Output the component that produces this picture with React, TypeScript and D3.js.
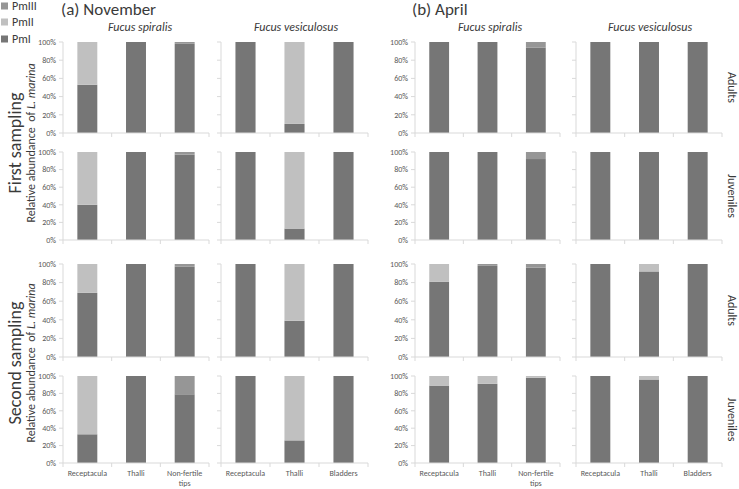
import React from "react";
import * as d3 from "d3";

// categories and labels
const months = ["(a) November", "(b) April"];
const species = ["Fucus spiralis", "Fucus vesiculosus"];
const spiralisParts = ["Receptacula", "Thalli", "Non-fertile tips"];
const vesiculosusParts = ["Receptacula", "Thalli", "Bladders"];
const samplings = ["First sampling", "Second sampling"];
const stages = ["Adults", "Juveniles", "Adults", "Juveniles"];
const series = ["PmI", "PmII", "PmIII"];
const yTicks = [0, 20, 40, 60, 80, 100];

// % values, one row per panel row (first adults, first juveniles, second adults, second juveniles)
const novSpiralisPmI = [[53, 100, 98], [40, 100, 97], [69, 100, 97], [33, 100, 79]];
const novSpiralisPmII = [[47, 0, 0], [60, 0, 0], [31, 0, 0], [67, 0, 0]];
const novSpiralisPmIII = [[0, 0, 2], [0, 0, 3], [0, 0, 3], [0, 0, 21]];

const novVesiculosusPmI = [[100, 10, 100], [100, 13, 100], [100, 39, 100], [100, 26, 100]];
const novVesiculosusPmII = [[0, 90, 0], [0, 87, 0], [0, 61, 0], [0, 74, 0]];
const novVesiculosusPmIII = [[0, 0, 0], [0, 0, 0], [0, 0, 0], [0, 0, 0]];

const aprSpiralisPmI = [[100, 100, 94], [100, 100, 92], [81, 98, 96], [89, 91, 98]];
const aprSpiralisPmII = [[0, 0, 0], [0, 0, 0], [19, 0, 0], [11, 9, 2]];
const aprSpiralisPmIII = [[0, 0, 6], [0, 0, 8], [0, 2, 4], [0, 0, 0]];

const aprVesiculosusPmI = [[100, 100, 100], [100, 100, 100], [100, 92, 100], [100, 96, 100]];
const aprVesiculosusPmII = [[0, 0, 0], [0, 0, 0], [0, 8, 0], [0, 4, 0]];
const aprVesiculosusPmIII = [[0, 0, 0], [0, 0, 0], [0, 0, 0], [0, 0, 0]];

const colors = { PmI: "#767676", PmII: "#c0c0c0", PmIII: "#969696" };
const font = "Carlito, Lato, sans-serif";
const axisColor = "#d9d9d9";
const tickText = "#595959";
const titleText = "#3a3a3a";

// layout of the four panel columns and rows
const columns = [
  { x0: 63, x1: 209, parts: spiralisParts, data: [novSpiralisPmI, novSpiralisPmII, novSpiralisPmIII], labels: true, title: species[0], tx: 140 },
  { x0: 221, x1: 368, parts: vesiculosusParts, data: [novVesiculosusPmI, novVesiculosusPmII, novVesiculosusPmIII], labels: false, title: species[1], tx: 296 },
  { x0: 415, x1: 560, parts: spiralisParts, data: [aprSpiralisPmI, aprSpiralisPmII, aprSpiralisPmIII], labels: true, title: species[0], tx: 490 },
  { x0: 576, x1: 722, parts: vesiculosusParts, data: [aprVesiculosusPmI, aprVesiculosusPmII, aprVesiculosusPmIII], labels: false, title: species[1], tx: 650 },
];
const rowTop = [42, 152, 264, 376];
const rowBottom = [133, 240, 357, 463];

function Panel({ col, row }) {
  const top = rowTop[row];
  const bottom = rowBottom[row];
  const y = d3.scaleLinear().domain([0, 100]).range([bottom, top]);
  const x = d3
    .scaleBand()
    .domain(col.parts)
    .range([col.x0, col.x1])
    .paddingInner(0.59)
    .paddingOuter(0.295);
  const step = x.step();

  const table = col.parts.map((p, i) => {
    const o = { part: p };
    series.forEach((s, k) => (o[s] = col.data[k][row][i]));
    return o;
  });
  const stacked = d3.stack().keys(series)(table);

  const boundaries = d3.range(col.parts.length + 1).map(i => col.x0 + i * step);

  return (
    <g>
      {/* y axis */}
      <line x1={col.x0} x2={col.x0} y1={top} y2={bottom} stroke={axisColor} />
      {yTicks.map(t => (
        <g key={t}>
          <line x1={col.x0 - 4} x2={col.x0} y1={y(t)} y2={y(t)} stroke={axisColor} />
          {col.labels && (
            <text x={col.x0 - 7} y={y(t)} dy="0.35em" textAnchor="end" fontSize={8} fill={tickText} fontFamily={font}>
              {t + "%"}
            </text>
          )}
        </g>
      ))}
      {/* bars */}
      {stacked.map(layer => (
        <g key={layer.key} fill={colors[layer.key]}>
          {layer.map((d, i) =>
            d[1] - d[0] > 0 ? (
              <rect
                key={i}
                x={x(d.data.part)}
                width={x.bandwidth()}
                y={y(d[1])}
                height={y(d[0]) - y(d[1])}
              />
            ) : null
          )}
        </g>
      ))}
      {/* x axis */}
      <line x1={col.x0} x2={col.x1} y1={bottom} y2={bottom} stroke={axisColor} />
      {boundaries.map((bx, i) => (
        <line key={i} x1={bx} x2={bx} y1={bottom} y2={bottom + 4} stroke={axisColor} />
      ))}
      {row === 3 &&
        col.parts.map(p => {
          const lines = p === "Non-fertile tips" ? ["Non-fertile", "tips"] : [p];
          return (
            <text key={p} x={x(p) + x.bandwidth() / 2} y={476} textAnchor="middle" fontSize={8} fill={tickText} fontFamily={font}>
              {lines.map((l, j) => (
                <tspan key={j} x={x(p) + x.bandwidth() / 2} dy={j === 0 ? 0 : 10}>
                  {l}
                </tspan>
              ))}
            </text>
          );
        })}
    </g>
  );
}

export default function App() {
  const legendY = [6, 22, 39];
  const legendOrder = ["PmIII", "PmII", "PmI"];
  const samplingCenter = [143, 363];
  const stageCenter = rowTop.map((t, i) => (t + rowBottom[i]) / 2);

  return (
    <svg width={739} height={489} style={{ position: "absolute", left: 0, top: 0, background: "#fff" }}>
      {/* legend */}
      {legendOrder.map((s, i) => (
        <g key={s}>
          <rect x={1} y={legendY[i] - 3.5} width={7} height={7} fill={colors[s]} />
          <text x={12} y={legendY[i]} dy="0.35em" fontSize={12} fill={titleText} fontFamily={font}>
            {s}
          </text>
        </g>
      ))}
      {/* month headers */}
      <text x={61} y={15} fontSize={17} fill={titleText} fontFamily={font}>{months[0]}</text>
      <text x={412} y={15} fontSize={17} fill={titleText} fontFamily={font}>{months[1]}</text>
      {columns.map((c, i) => (
        <text key={i} x={c.tx} y={31} textAnchor="middle" fontSize={12} fontStyle="italic" fill={titleText} fontFamily={font}>
          {c.title}
        </text>
      ))}
      {/* left titles */}
      {samplings.map((s, i) => (
        <g key={s}>
          <text transform={`translate(21,${samplingCenter[i]}) rotate(-90)`} textAnchor="middle" fontSize={18} fill={titleText} fontFamily={font}>
            {s}
          </text>
          <text transform={`translate(35,${samplingCenter[i]}) rotate(-90)`} textAnchor="middle" fontSize={12} fill={titleText} fontFamily={font}>
            {"Relative abundance \u00a0of "}
            <tspan fontStyle="italic">L. marina</tspan>
          </text>
        </g>
      ))}
      {/* right stage titles */}
      {stages.map((s, i) => (
        <text key={i} transform={`translate(728,${stageCenter[i]}) rotate(90)`} textAnchor="middle" fontSize={12} fill={titleText} fontFamily={font}>
          {s}
        </text>
      ))}
      {columns.map((c, ci) =>
        rowTop.map((_, ri) => <Panel key={ci + "-" + ri} col={c} row={ri} />)
      )}
    </svg>
  );
}
